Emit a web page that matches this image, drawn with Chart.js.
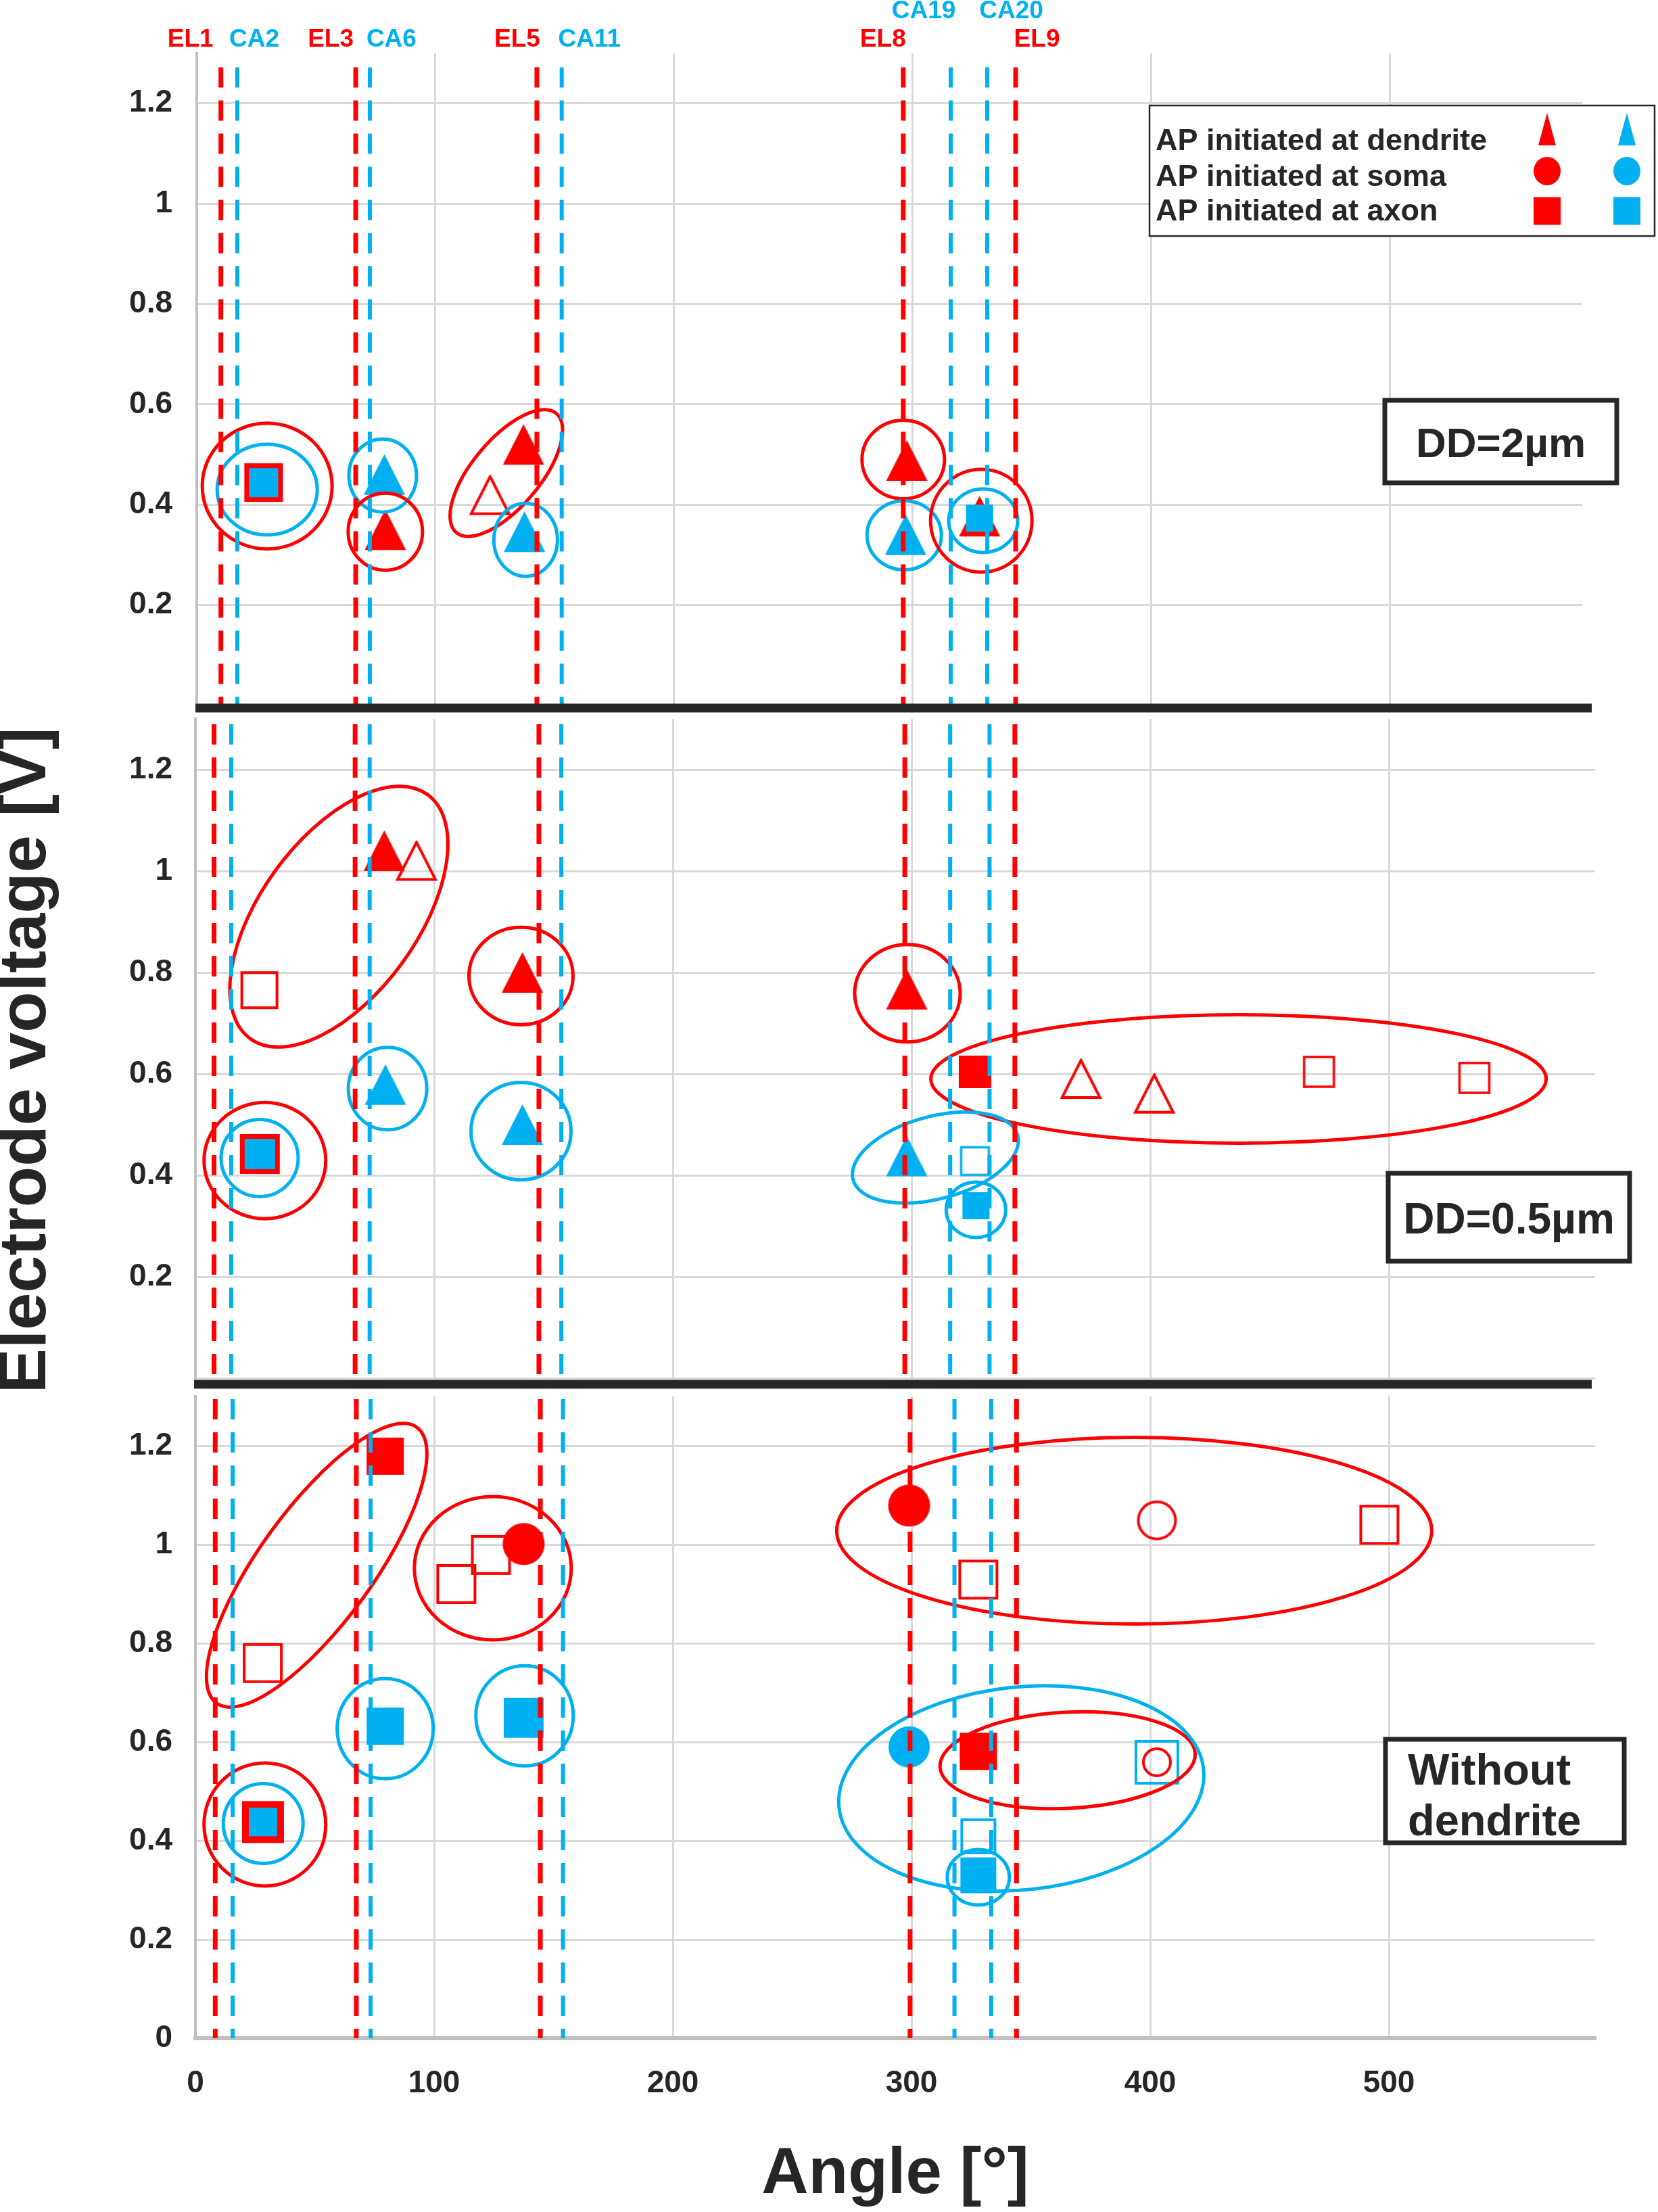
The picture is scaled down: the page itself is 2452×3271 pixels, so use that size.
<!DOCTYPE html>
<html>
<head>
<meta charset="utf-8">
<script src="https://cdn.jsdelivr.net/npm/chart.js@4.4.1/dist/chart.umd.min.js"></script>
<style>
  html, body { margin: 0; padding: 0; background: #fff; }
  #wrap { position: relative; width: 2452px; height: 3271px; }
  canvas { position: absolute; left: 0; top: 0; }
</style>
</head>
<body>
<div id="wrap">
  <canvas id="panel1" width="2452" height="3271"></canvas>
  <canvas id="panel2" width="2452" height="3271"></canvas>
  <canvas id="panel3" width="2452" height="3271"></canvas>
</div>
<script>
// ---- data ----
const electrodeNames = ["EL1", "CA2", "EL3", "CA6", "EL5", "CA11", "EL8", "CA19", "CA20", "EL9"];
const electrodeAnglesP1 = [10.1, 17.0, 66.6, 72.5, 142.5, 152.9, 296.0, 315.9, 331.2, 343.1];
const electrodeAnglesP2 = [7.8, 15.0, 66.9, 73.0, 143.9, 153.3, 297.2, 316.2, 332.7, 343.3];
const electrodeAnglesP3 = [8.3, 15.6, 67.4, 73.4, 144.5, 154.0, 299.4, 318.0, 333.4, 344.0];
const yTickValues = [0, 0.2, 0.4, 0.6, 0.8, 1, 1.2];
const xTickValues = [0, 100, 200, 300, 400, 500];
const legendLabels = ["AP initiated at dendrite", "AP initiated at soma", "AP initiated at axon"];
const panelNames = [["DD=2µm"], ["DD=0.5µm"], ["Without", "dendrite"]];

// DD = 2 µm
const p1BlueAxis = [{ x: 328, y: 0.373 }];
const p1BothAxis = [{ x: 28, y: 0.444 }];
const p1BlueDendrite = [{ x: 78.6, y: 0.46 }, { x: 137.3, y: 0.346 }, { x: 297, y: 0.34 }];
const p1RedDendrite = [{ x: 79, y: 0.35 }, { x: 136.9, y: 0.52 }, { x: 297.5, y: 0.488 }, { x: 328, y: 0.377 }];
const p1RedDendriteOpen = [{ x: 122.9, y: 0.419 }];

// DD = 0.5 µm
const p2BothAxis = [{ x: 27, y: 0.442 }];
const p2RedAxis = [{ x: 326.6, y: 0.604 }];
const p2BlueAxis = [{ x: 327, y: 0.34 }];
const p2BlueAxisOpen = [{ x: 326.6, y: 0.428 }];
const p2RedAxisOpen = [{ x: 26.8, y: 0.765 }, { x: 470.7, y: 0.604 }, { x: 535.8, y: 0.592 }];
const p2RedDendrite = [{ x: 79.1, y: 1.04 }, { x: 137, y: 0.8 }, { x: 298, y: 0.767 }];
const p2RedDendriteOpen = [{ x: 92.6, y: 1.02 }, { x: 371, y: 0.59 }, { x: 401.7, y: 0.561 }];
const p2BlueDendrite = [{ x: 79.6, y: 0.579 }, { x: 137, y: 0.5 }, { x: 298, y: 0.438 }];

// without dendrite
const p3RedSomaOpen = [{ x: 402.8, y: 1.049 }, { x: 402.8, y: 0.559 }];
const p3BlueAxisOpen = [{ x: 402.8, y: 0.559 }, { x: 328, y: 0.409 }];
const p3BothAxis = [{ x: 28.3, y: 0.438 }];
const p3RedSoma = [{ x: 137.5, y: 1.001 }, { x: 299, y: 1.079 }];
const p3RedAxisOpen = [{ x: 28.2, y: 0.76 }, { x: 109.3, y: 0.92 }, { x: 123.8, y: 0.979 }, { x: 496, y: 1.04 }, { x: 328, y: 0.929 }];
const p3RedAxis = [{ x: 79.5, y: 1.179 }, { x: 328, y: 0.581 }];
const p3BlueAxis = [{ x: 79.5, y: 0.632 }, { x: 137.5, y: 0.649 }, { x: 328, y: 0.33 }];
const p3BlueSoma = [{ x: 299, y: 0.59 }];

// ---- look ----
const W = 2452, H = 3271;
const RED = "#ff0000", BLUE = "#00b0f0", INK = "#262626", GRID = "#d9d9d9", AXIS = "#c0c0c0";
const FONT = "'Liberation Sans', Arial, sans-serif";

// marker images (Chart.js draws canvas point styles centred on the point)
function marker(shape, o) {
  const lw = o.line || 0, w = o.w, h = o.h || o.w;
  const c = document.createElement("canvas");
  c.width = Math.ceil(w + lw + 2);
  c.height = Math.ceil(h + lw + 2);
  const g = c.getContext("2d");
  const cx = c.width / 2, cy = c.height / 2;
  g.beginPath();
  if (shape === "tri") {
    g.moveTo(cx, cy - h / 2); g.lineTo(cx + w / 2, cy + h / 2); g.lineTo(cx - w / 2, cy + h / 2); g.closePath();
  } else if (shape === "circ") {
    g.ellipse(cx, cy, w / 2, h / 2, 0, 0, Math.PI * 2);
  } else {
    g.rect(cx - w / 2, cy - h / 2, w, h);
  }
  if (o.fill) { g.fillStyle = o.fill; g.fill(); }
  if (o.stroke) { g.lineWidth = lw; g.strokeStyle = o.stroke; g.stroke(); }
  if (o.inner) {
    const b = o.border;
    g.fillStyle = o.inner;
    g.fillRect(cx - w / 2 + b, cy - h / 2 + b, w - 2 * b, h - 2 * b);
  }
  return c;
}

const triR = marker("tri", { w: 61, h: 60, fill: RED });
const triB = marker("tri", { w: 61, h: 60, fill: BLUE });
const triRo = marker("tri", { w: 56, h: 55, stroke: RED, line: 4 });
const combo57 = marker("sq", { w: 57, fill: RED, inner: BLUE, border: 7 });
const combo59 = marker("sq", { w: 59, fill: RED, inner: BLUE, border: 7 });
const combo62 = marker("sq", { w: 62, fill: RED, inner: BLUE, border: 10 });

function ds(data, style) {
  return { data, pointStyle: style, pointRadius: 30, pointHoverRadius: 30, showLine: false };
}

// per panel: plot area, electrode lines, rings and the text box
const panels = {
  panel1: {
    geo: { left: 291, right: 2340, top: 78.5, bottom: 1043, xMax: 580.5 },
    angles: electrodeAnglesP1, lineStart: 21, separator: 1047,
    rings: [
      { c: RED, x: 29.5, y: 0.437, rx: 96, ry: 93 },
      { c: BLUE, x: 29.5, y: 0.43, rx: 74, ry: 67 },
      { c: BLUE, x: 77.9, y: 0.458, rx: 50, ry: 54 },
      { c: RED, x: 79, y: 0.346, rx: 55, ry: 57 },
      { c: RED, x: 129.7, y: 0.463, rx: 115, ry: 50, rot: -50 },
      { c: BLUE, x: 137.8, y: 0.33, rx: 47, ry: 54 },
      { c: RED, x: 296, y: 0.49, rx: 61, ry: 58 },
      { c: BLUE, x: 296.4, y: 0.339, rx: 55, ry: 51 },
      { c: BLUE, x: 329.5, y: 0.368, rx: 51, ry: 47 },
      { c: RED, x: 328.7, y: 0.368, rx: 75, ry: 76 }
    ],
    box: { x1: 2048, y1: 592, x2: 2391, y2: 714, size: 62, center: true, lines: panelNames[0], ys: [659] },
    datasets: [
      ds(p1BlueAxis, marker("sq", { w: 40, fill: BLUE })),
      ds(p1BothAxis, combo57),
      ds(p1BlueDendrite, triB),
      ds(p1RedDendrite, triR),
      ds(p1RedDendriteOpen, triRo)
    ]
  },
  panel2: {
    geo: { left: 289, right: 2359, top: 1063, bottom: 2038, xMax: 586.4 },
    angles: electrodeAnglesP2, lineStart: 8, separator: 2047,
    rings: [
      { c: RED, x: 60.1, y: 0.91, rx: 223, ry: 116, rot: -54 },
      { c: RED, x: 136.4, y: 0.793, rx: 77, ry: 72 },
      { c: BLUE, x: 80.5, y: 0.571, rx: 58, ry: 61 },
      { c: BLUE, x: 136.4, y: 0.487, rx: 74, ry: 72 },
      { c: BLUE, x: 26.9, y: 0.434, rx: 57, ry: 57 },
      { c: RED, x: 29.1, y: 0.429, rx: 90, ry: 86 },
      { c: RED, x: 298.3, y: 0.759, rx: 78, ry: 72 },
      { c: RED, x: 437, y: 0.59, rx: 455, ry: 95 },
      { c: BLUE, x: 310, y: 0.435, rx: 126, ry: 61, rot: -15 },
      { c: BLUE, x: 327, y: 0.332, rx: 44, ry: 41 }
    ],
    box: { x1: 2053, y1: 1735, x2: 2410, y2: 1865, size: 64, center: true, lines: panelNames[1], ys: [1806] },
    datasets: [
      ds(p2BothAxis, combo59),
      ds(p2RedAxis, marker("sq", { w: 48, fill: RED })),
      ds(p2BlueAxis, marker("sq", { w: 40, fill: BLUE })),
      ds(p2BlueAxisOpen, marker("sq", { w: 41, stroke: BLUE, line: 3.5 })),
      ds(p2RedAxisOpen, [marker("sq", { w: 52, stroke: RED, line: 4 }),
                         marker("sq", { w: 44, stroke: RED, line: 3.5 }),
                         marker("sq", { w: 44, stroke: RED, line: 3.5 })]),
      ds(p2RedDendrite, triR),
      ds(p2RedDendriteOpen, triRo),
      ds(p2BlueDendrite, triB)
    ]
  },
  panel3: {
    geo: { left: 289, right: 2359, top: 2065, bottom: 3014, xMax: 586.4 },
    angles: electrodeAnglesP3, lineStart: 4, separator: null,
    rings: [
      { c: RED, x: 50.8, y: 0.958, rx: 252, ry: 84, rot: -54 },
      { c: RED, x: 124.6, y: 0.952, rx: 116, ry: 106 },
      { c: BLUE, x: 79.5, y: 0.627, rx: 71, ry: 74 },
      { c: BLUE, x: 137.9, y: 0.653, rx: 72, ry: 74 },
      { c: BLUE, x: 28.4, y: 0.435, rx: 59, ry: 59 },
      { c: RED, x: 29.1, y: 0.433, rx: 90, ry: 91 },
      { c: RED, x: 393.3, y: 1.028, rx: 440, ry: 138 },
      { c: RED, x: 365.4, y: 0.563, rx: 189, ry: 71, rot: -3 },
      { c: BLUE, x: 346, y: 0.506, rx: 271, ry: 150, rot: -6 },
      { c: BLUE, x: 328, y: 0.326, rx: 46, ry: 41 }
    ],
    box: { x1: 2049, y1: 2572, x2: 2402, y2: 2725, size: 65, center: false, tx: 2082, lines: panelNames[2], ys: [2621, 2696] },
    datasets: [
      ds(p3RedSomaOpen, [marker("circ", { w: 55, h: 55, stroke: RED, line: 4 }),
                         marker("circ", { w: 40, h: 40, stroke: RED, line: 4 })]),
      ds(p3BlueAxisOpen, [marker("sq", { w: 62, stroke: BLUE, line: 4 }),
                          marker("sq", { w: 49, stroke: BLUE, line: 4 })]),
      ds(p3BothAxis, combo62),
      ds(p3RedSoma, marker("circ", { w: 62, h: 62, fill: RED })),
      ds(p3RedAxisOpen, marker("sq", { w: 55, stroke: RED, line: 4 })),
      ds(p3RedAxis, marker("sq", { w: 55, fill: RED })),
      ds(p3BlueAxis, [marker("sq", { w: 55, fill: BLUE }),
                      marker("sq", { w: 59, fill: BLUE }),
                      marker("sq", { w: 53, fill: BLUE })]),
      ds(p3BlueSoma, marker("circ", { w: 61, h: 61, fill: BLUE }))
    ]
  }
};

// electrode label placement (offset from its dashed line, row y)
const labelShift = [-45, 25, -37, 32, -29, 41, -30, -40, 35.5, 31.5];
const labelRow = [59, 59, 59, 59, 59, 59, 59, 17, 17, 59];

const figurePlugin = {
  id: "figure",
  afterDatasetsDraw(chart) {
    const p = panels[chart.canvas.id];
    const { ctx, chartArea: a } = chart;
    const sx = chart.scales.x, sy = chart.scales.y;
    ctx.save();

    ctx.lineWidth = 5;
    p.rings.forEach(r => {
      ctx.strokeStyle = r.c;
      ctx.beginPath();
      ctx.ellipse(sx.getPixelForValue(r.x), sy.getPixelForValue(r.y), r.rx, r.ry,
        (r.rot || 0) * Math.PI / 180, 0, Math.PI * 2);
      ctx.stroke();
    });

    ctx.setLineDash([30, 19]);
    p.angles.forEach((v, i) => {
      const red = electrodeNames[i].startsWith("EL");
      const px = sx.getPixelForValue(v);
      ctx.strokeStyle = red ? RED : BLUE;
      ctx.lineWidth = red ? 7 : 6;
      ctx.beginPath();
      ctx.moveTo(px, a.top + p.lineStart);
      ctx.lineTo(px, a.bottom);
      ctx.stroke();
    });
    ctx.setLineDash([]);

    if (p.separator) {
      ctx.fillStyle = INK;
      ctx.fillRect(a.left - 2, p.separator - 6.5, 2356 - a.left, 13);
    }

    // text box
    const b = p.box;
    ctx.fillStyle = "#fff";
    ctx.fillRect(b.x1, b.y1, b.x2 - b.x1, b.y2 - b.y1);
    ctx.strokeStyle = INK;
    ctx.lineWidth = 7;
    ctx.strokeRect(b.x1, b.y1, b.x2 - b.x1, b.y2 - b.y1);
    ctx.fillStyle = INK;
    ctx.font = "bold " + b.size + "px " + FONT;
    ctx.textBaseline = "middle";
    ctx.textAlign = b.center ? "center" : "left";
    b.lines.forEach((t, i) => ctx.fillText(t, b.center ? (b.x1 + b.x2) / 2 : b.tx, b.ys[i]));

    if (chart.canvas.id === "panel1") {
      // electrode names above the plot
      ctx.font = "bold 37px " + FONT;
      ctx.textAlign = "center";
      p.angles.forEach((v, i) => {
        ctx.fillStyle = electrodeNames[i].startsWith("EL") ? RED : BLUE;
        ctx.fillText(electrodeNames[i], sx.getPixelForValue(v) + labelShift[i], labelRow[i]);
      });
      // legend
      ctx.fillStyle = "#fff";
      ctx.fillRect(1700, 156, 747, 193);
      ctx.strokeStyle = INK;
      ctx.lineWidth = 2.5;
      ctx.strokeRect(1700, 156, 747, 193);
      ctx.fillStyle = INK;
      ctx.font = "bold 45px " + FONT;
      ctx.textAlign = "left";
      const rowY = [210, 263, 314];
      legendLabels.forEach((t, i) => ctx.fillText(t, 1709, rowY[i]));
      const icons = [
        [marker("tri", { w: 26, h: 48, fill: RED }), marker("tri", { w: 26, h: 48, fill: BLUE }), 191],
        [marker("circ", { w: 40, h: 42, fill: RED }), marker("circ", { w: 40, h: 42, fill: BLUE }), 253],
        [marker("sq", { w: 40, h: 41, fill: RED }), marker("sq", { w: 40, h: 41, fill: BLUE }), 312]
      ];
      icons.forEach(([r, bl, y]) => {
        ctx.drawImage(r, 2288 - r.width / 2, y - r.height / 2);
        ctx.drawImage(bl, 2406 - bl.width / 2, y - bl.height / 2);
      });
    }

    if (chart.canvas.id === "panel2") {
      ctx.translate(40, 1568);
      ctx.rotate(-Math.PI / 2);
      ctx.fillStyle = INK;
      ctx.font = "bold 99px " + FONT;
      ctx.textAlign = "center";
      ctx.textBaseline = "middle";
      ctx.fillText("Electrode voltage [V]", 0, 0);
    }
    ctx.restore();
  }
};

function buildChart(id) {
  const p = panels[id];
  const g = p.geo;
  const showX = id === "panel3";
  return new Chart(document.getElementById(id), {
    type: "scatter",
    data: { datasets: p.datasets },
    options: {
      responsive: false,
      animation: false,
      devicePixelRatio: 1,
      events: [],
      layout: { padding: { left: 0, top: g.top, right: W - g.right, bottom: showX ? 0 : H - g.bottom - 10 } },
      plugins: { legend: { display: false }, tooltip: { enabled: false } },
      scales: {
        x: {
          type: "linear",
          min: 0,
          max: g.xMax,
          afterBuildTicks: s => { s.ticks = xTickValues.map(v => ({ value: v })); },
          afterFit: s => { s.height = showX ? H - g.bottom : 10; },
          grid: { color: GRID, lineWidth: 3, drawTicks: false },
          border: { display: showX, color: AXIS, width: 6 },
          ticks: {
            display: showX, padding: 40, color: INK, autoSkip: false, maxRotation: 0,
            font: { family: FONT, size: 46, weight: "bold" }
          },
          title: {
            display: showX, text: "Angle [°]", color: INK, padding: 0,
            font: { family: FONT, size: 96, weight: "bold", lineHeight: 1.14 }
          }
        },
        y: {
          type: "linear",
          min: 0,
          max: 1.3,
          afterBuildTicks: s => { s.ticks = yTickValues.map(v => ({ value: v })); },
          afterFit: s => { s.width = g.left; },
          grid: { color: GRID, lineWidth: 3, drawTicks: false },
          border: { color: AXIS, width: 4 },
          ticks: {
            padding: g.left - 255, color: INK, autoSkip: false,
            font: { family: FONT, size: 46, weight: "bold" },
            callback: v => (v === 0 && !showX) ? "" : String(+v.toFixed(1))
          }
        }
      }
    },
    plugins: [figurePlugin]
  });
}

buildChart("panel1");
buildChart("panel2");
buildChart("panel3");
</script>
</body>
</html>
